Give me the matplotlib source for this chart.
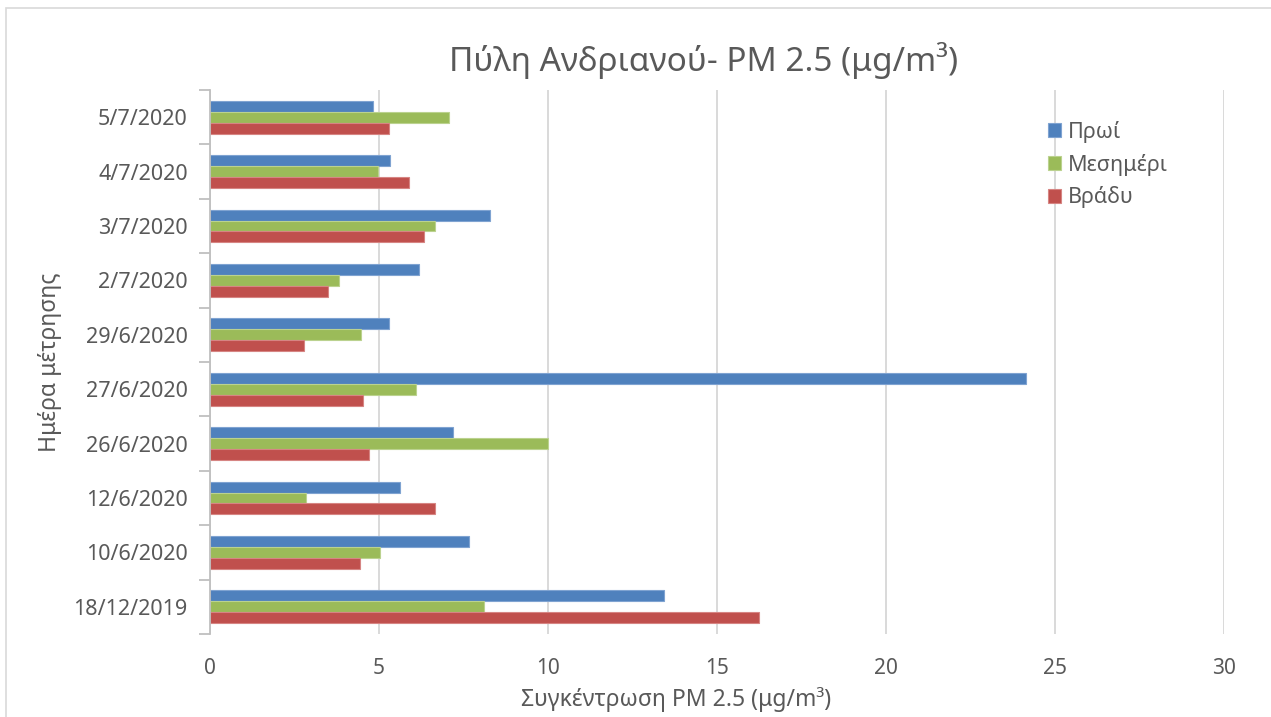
import matplotlib
matplotlib.use("Agg")
import matplotlib.pyplot as plt
from matplotlib.patches import Rectangle
import numpy as np

plt.rcParams['font.family'] = ['Noto Sans', 'DejaVu Sans']

# Measurement days (top to bottom as displayed)
days = ["5/7/2020", "4/7/2020", "3/7/2020", "2/7/2020", "29/6/2020",
        "27/6/2020", "26/6/2020", "12/6/2020", "10/6/2020", "18/12/2019"]

# PM 2.5 concentrations (μg/m³) per time of day
morning = [4.82, 5.34, 8.29, 6.17, 5.31, 24.15, 7.19, 5.61, 7.65, 13.43]
noon = [7.08, 4.98, 6.67, 3.82, 4.48, 6.09, 10.01, 2.84, 5.02, 8.11]
evening = [5.30, 5.88, 6.32, 3.48, 2.78, 4.53, 4.70, 6.65, 4.44, 16.25]

series_names = ["Πρωί", "Μεσημέρι", "Βράδυ"]
colors = ["#4F81BD", "#9BBB59", "#C0504D"]
edge_colors = ["#7FA3D1", "#BBD28F", "#D68583"]

text_color = "#595959"
grid_color = "#D9D9D9"
axis_color = "#BFBFBF"

W, H = 1271, 717
fig = plt.figure(figsize=(W / 100, H / 100), dpi=100)

# Outer chart frame
fig.add_artist(Rectangle((6 / W, -0.05), 1.2, (717 - 8) / H + 0.05,
                         transform=fig.transFigure, fill=False,
                         edgecolor=grid_color, linewidth=1.2))

left, right, top, bottom = 210, 1224, 90, 634
ax = fig.add_axes([left / W, (H - bottom) / H, (right - left) / W, (bottom - top) / H])

n = len(days)
ypos = np.arange(n)[::-1]  # first day at the top
bar_h = 0.2
offsets = [bar_h, 0.0, -bar_h]
handles = []
for vals, off, c, ec, name in zip([morning, noon, evening], offsets, colors, edge_colors, series_names):
    b = ax.barh(ypos + off, vals, height=bar_h, color=c, edgecolor=ec,
                linewidth=0.8, label=name, zorder=3)
    handles.append(b)

ax.set_xlim(0, 30)
ax.set_ylim(-0.5, n - 0.5)
ax.set_xticks(np.arange(0, 31, 5))
ax.set_yticks(ypos)
ax.set_yticklabels(days)
ax.set_yticks(np.arange(-0.5, n, 1.0), minor=True)

ax.grid(axis='x', color=grid_color, linewidth=1.4, zorder=0)
ax.set_axisbelow(True)

for s in ['top', 'right', 'bottom']:
    ax.spines[s].set_visible(False)
ax.spines['left'].set_color(axis_color)
ax.spines['left'].set_linewidth(1.3)
ax.spines['left'].set_zorder(4)

ax.tick_params(axis='y', which='major', length=0, pad=16, labelsize=15.5, labelcolor=text_color)
ax.tick_params(axis='y', which='minor', length=8, width=1.3, color=axis_color, direction='out')
ax.tick_params(axis='x', which='both', length=0, pad=17, labelsize=15, labelcolor=text_color)

# Titles and axis labels
fig.text(704 / W, (H - 71) / H, "Πύλη Ανδριανού- PM 2.5 (μg/m³)", ha='center', va='baseline',
         fontsize=24, color=text_color)
fig.text(676 / W, (H - 700) / H, "Συγκέντρωση PM 2.5 (μg/m³)", ha='center', va='center',
         fontsize=16.5, color=text_color)
fig.text(50 / W, (H - 362) / H, "Ημέρα μέτρησης", ha='center', va='center', rotation=90,
         fontsize=16.5, color=text_color)

leg = ax.legend(handles=handles, loc='upper left', bbox_to_anchor=(1037 / W, (H - 110) / H),
                bbox_transform=fig.transFigure, frameon=False, fontsize=15.5,
                handlelength=0.62, handleheight=0.62, handletextpad=0.3, labelspacing=0.5,
                labelcolor=text_color, borderpad=0)

fig.savefig("out.png", dpi=100)
